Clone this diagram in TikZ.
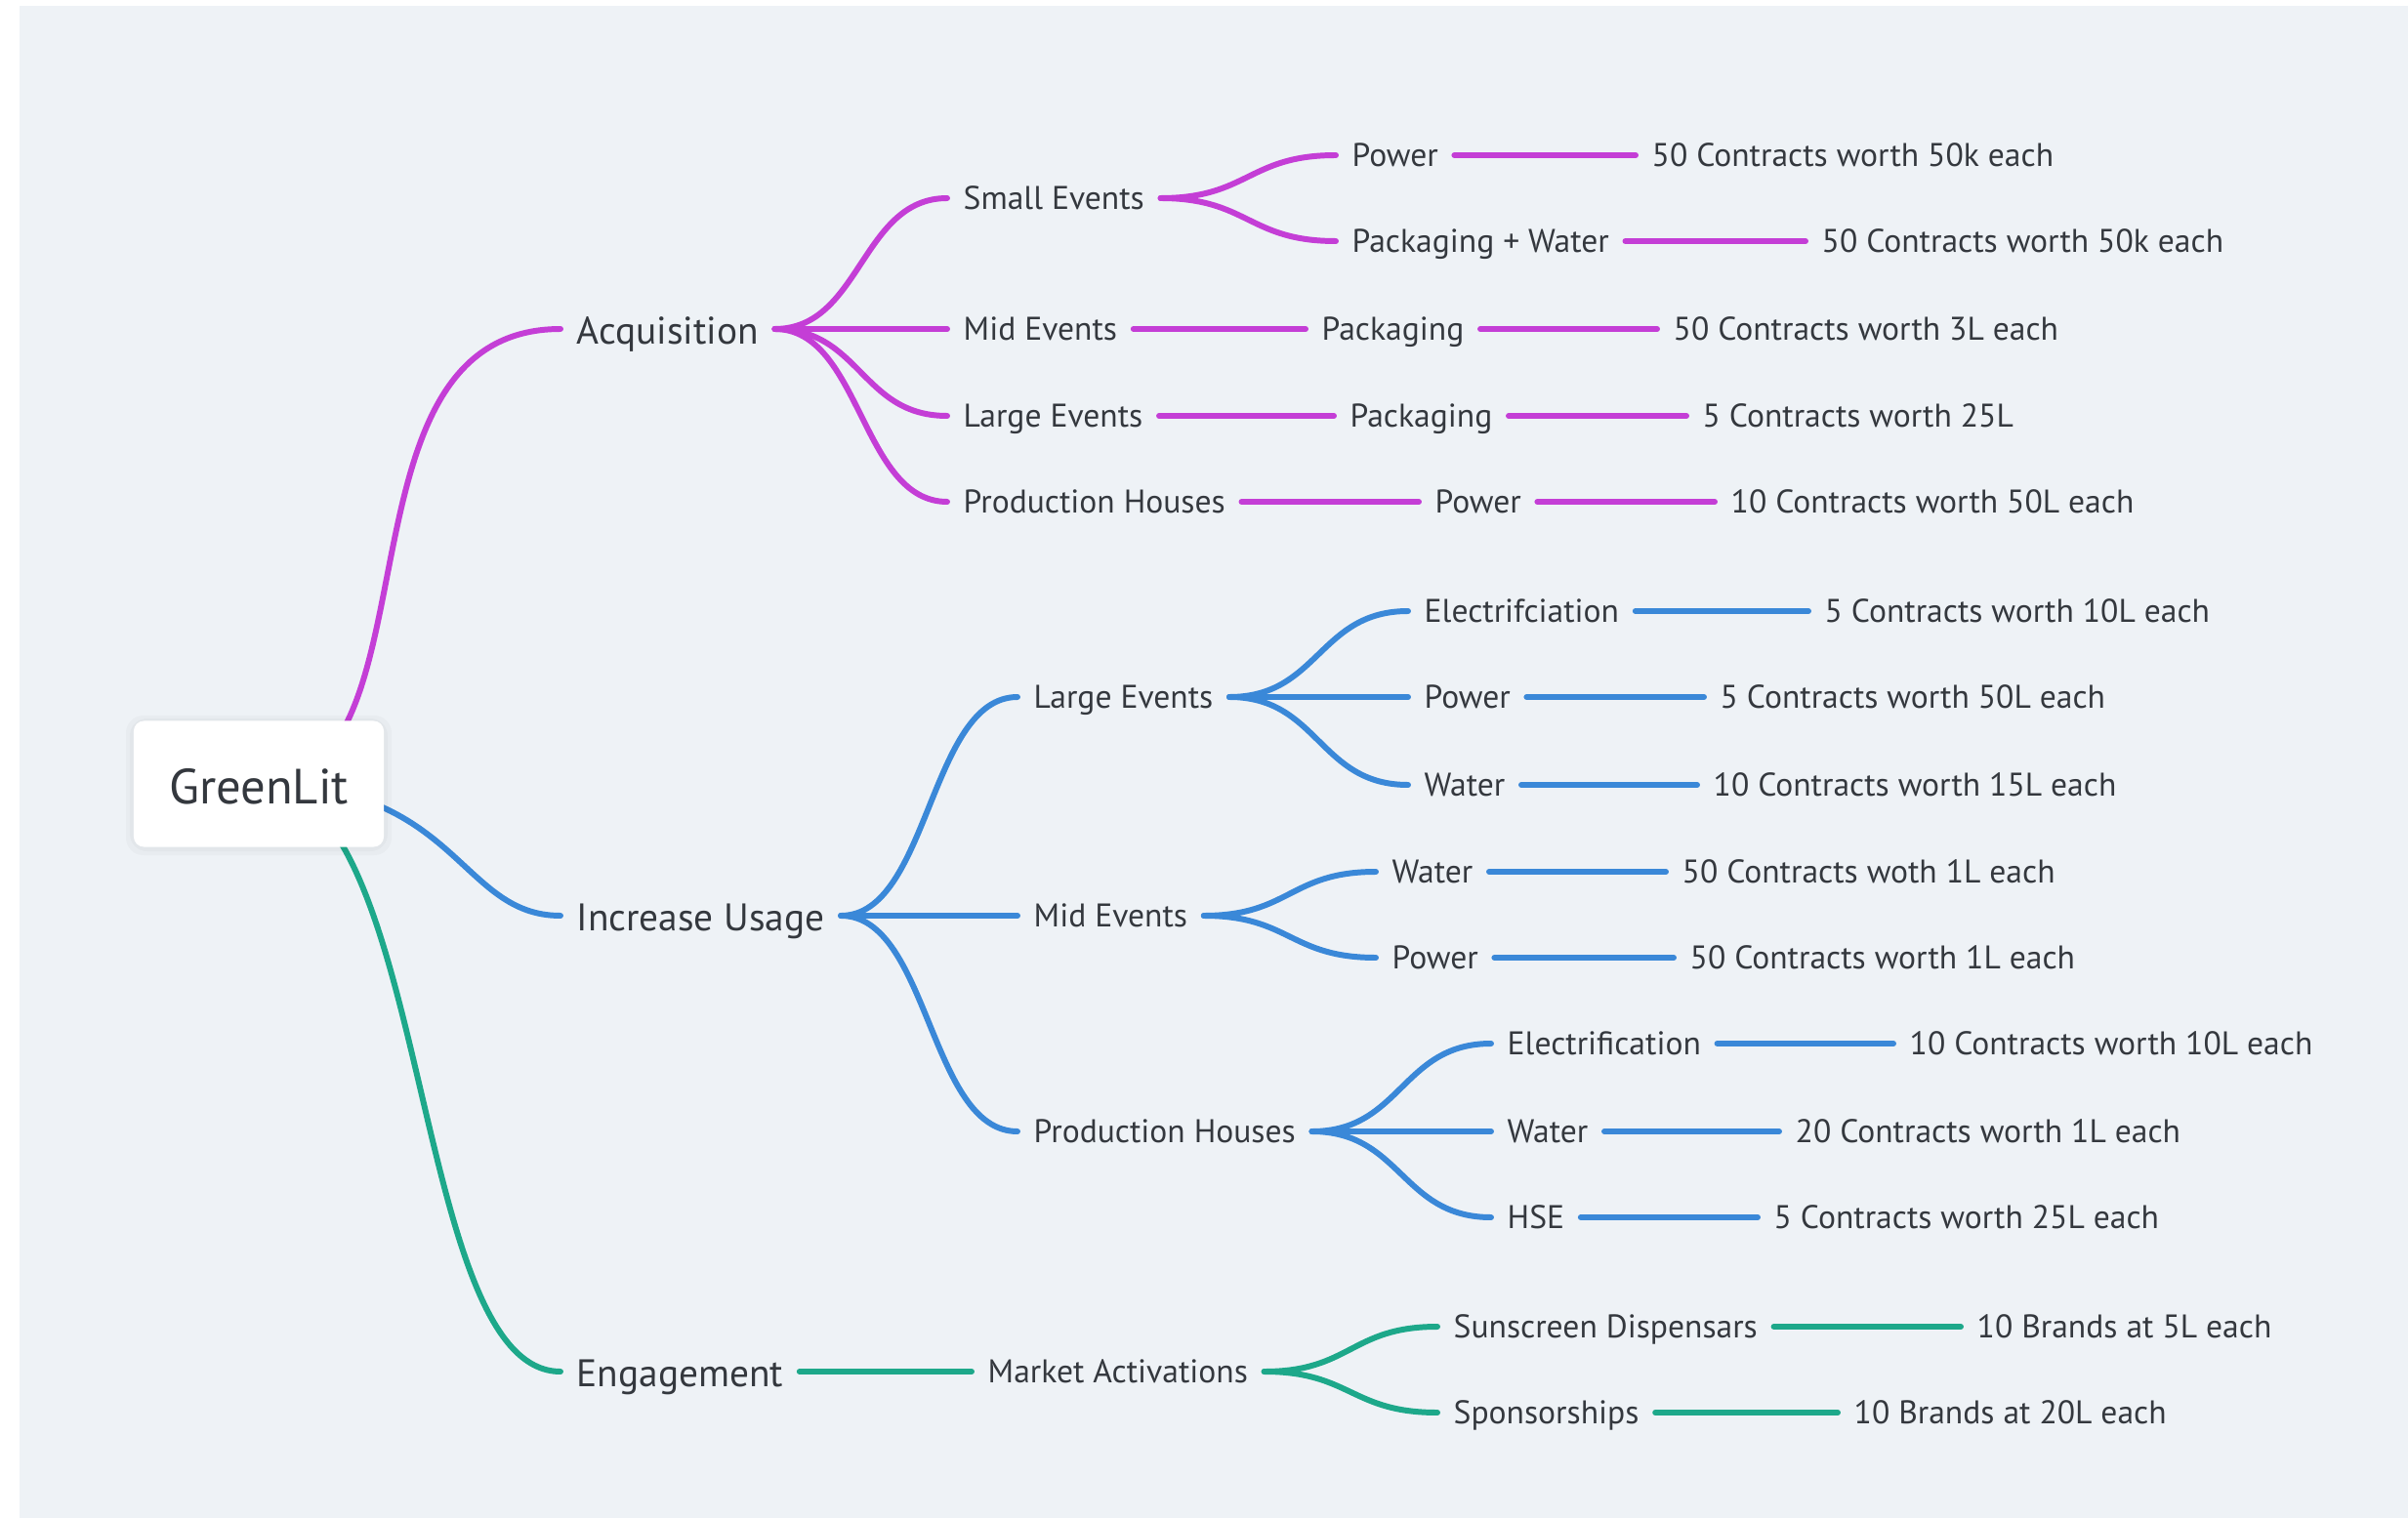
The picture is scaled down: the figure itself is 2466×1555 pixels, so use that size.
\documentclass[tikz,border=0pt]{standalone}
\usepackage{fontspec}
\setmainfont{PT Sans}
\usetikzlibrary{calc}
\definecolor{bgpanel}{HTML}{EEF2F6}
\definecolor{mmpurple}{HTML}{C43ED6}
\definecolor{mmblue}{HTML}{3A88D8}
\definecolor{mmgreen}{HTML}{1DA88A}
\definecolor{mmtext}{HTML}{34383E}
\tikzset{
  rootbox/.style={draw=none, fill=white, rounded corners=3pt, minimum width=2.56cm, minimum height=1.29cm,
    font=\fontsize{14.4}{17}\selectfont, text=mmtext, text height=13.4pt, text depth=2pt},
  rootshade/.style={fill=black, fill opacity=0.025, rounded corners=5pt},
  lvone/.style={anchor=west, inner sep=0pt, font=\fontsize{11.2}{14}\selectfont, text=mmtext, text height=10.9pt, text depth=2.3pt},
  lvtwo/.style={anchor=west, inner sep=0pt, font=\fontsize{9.55}{12}\selectfont, text=mmtext, text height=8.7pt, text depth=2pt},
  conn/.style={line width=1.7pt, line cap=round},
  cp/.style={conn, draw=mmpurple},
  cb/.style={conn, draw=mmblue},
  cg/.style={conn, draw=mmgreen}
}
\newcommand\mmfork[3]{\draw[#1] let \p1=($(#2.east)+(0.16cm,0)$), \p2=($(#3.west)-(0.16cm,0)$) in
  (\p1) .. controls ($(\p1)!0.5!(\x2,\y1)$) and ($(\p2)!0.5!(\x1,\y2)$) .. (\p2);}
\newcommand\mmline[3]{\draw[#1] ($(#2.east)+(0.16cm,0)$) -- ($(#3.west)-(0.16cm,0)$);}
\begin{document}
\begin{tikzpicture}[x=0.01cm, y=-0.01cm]
\useasboundingbox (0,0) rectangle (2466,1555);
\fill[white] (0,0) rectangle (2466,1555);
\fill[bgpanel] (20,6) rectangle (2466,1555);
\coordinate (rootc) at (265,803);
% level 1
\node[lvone] (acq) at (590,337) {Acquisition};
\node[lvone] (inc) at (590,938) {Increase Usage};
\node[lvone] (eng) at (590,1405) {Engagement};
% level 2
\node[lvtwo] (psmall) at (986,203) {Small Events};
\node[lvtwo] (pmid) at (986,337) {Mid Events};
\node[lvtwo] (plarge) at (986,426) {Large Events};
\node[lvtwo] (pprod) at (986,514) {Production Houses};
\node[lvtwo] (blarge) at (1058,714) {Large Events};
\node[lvtwo] (bmid) at (1058,938) {Mid Events};
\node[lvtwo] (bprod) at (1058,1159) {Production Houses};
\node[lvtwo] (gmkt) at (1011,1405) {Market Activations};
% level 3
\node[lvtwo] (ppow) at (1384,159) {Power};
\node[lvtwo] (ppw) at (1384,247) {Packaging + Water};
\node[lvtwo] (ppackm) at (1353,337) {Packaging};
\node[lvtwo] (ppackl) at (1382,426) {Packaging};
\node[lvtwo] (ppowp) at (1469,514) {Power};
\node[lvtwo] (belecl) at (1458,626) {Electrifciation};
\node[lvtwo] (bpowl) at (1458,714) {Power};
\node[lvtwo] (bwatl) at (1458,804) {Water};
\node[lvtwo] (bwatm) at (1425,893) {Water};
\node[lvtwo] (bpowm) at (1425,981) {Power};
\node[lvtwo] (belecp) at (1543,1069) {Electrification};
\node[lvtwo] (bwatp) at (1543,1159) {Water};
\node[lvtwo] (bhse) at (1543,1247) {HSE};
\node[lvtwo] (gsun) at (1488,1359) {Sunscreen Dispensars};
\node[lvtwo] (gspon) at (1488,1447) {Sponsorships};
% level 4
\node[lvtwo] (q1) at (1691,159) {50 Contracts worth 50k each};
\node[lvtwo] (q2) at (1865,247) {50 Contracts worth 50k each};
\node[lvtwo] (q3) at (1713,337) {50 Contracts worth 3L each};
\node[lvtwo] (q4) at (1743,426) {5 Contracts worth 25L};
\node[lvtwo] (q5) at (1772,514) {10 Contracts worth 50L each};
\node[lvtwo] (q6) at (1868,626) {5 Contracts worth 10L each};
\node[lvtwo] (q7) at (1761,714) {5 Contracts worth 50L each};
\node[lvtwo] (q8) at (1754,804) {10 Contracts worth 15L each};
\node[lvtwo] (q9) at (1722,893) {50 Contracts woth 1L each};
\node[lvtwo] (q10) at (1730,981) {50 Contracts worth 1L each};
\node[lvtwo] (q11) at (1955,1069) {10 Contracts worth 10L each};
\node[lvtwo] (q12) at (1838,1159) {20 Contracts worth 1L each};
\node[lvtwo] (q13) at (1816,1247) {5 Contracts worth 25L each};
\node[lvtwo] (q14) at (2024,1359) {10 Brands at 5L each};
\node[lvtwo] (q15) at (1898,1447) {10 Brands at 20L each};
% root connectors
\draw[cp] (rootc) .. controls (456,803) and (332,337) .. ($(acq.west)-(0.16cm,0)$);
\draw[cb] (rootc) .. controls (470,803) and (470,938) .. ($(inc.west)-(0.16cm,0)$);
\draw[cg] (rootc) .. controls (443,803) and (418,1405) .. ($(eng.west)-(0.16cm,0)$);
% level 1 -> 2
\mmfork{cp}{acq}{psmall}
\mmfork{cp}{acq}{pmid}
\mmfork{cp}{acq}{plarge}
\mmfork{cp}{acq}{pprod}
\mmfork{cb}{inc}{blarge}
\mmfork{cb}{inc}{bmid}
\mmfork{cb}{inc}{bprod}
\mmline{cg}{eng}{gmkt}
% level 2 -> 3
\mmfork{cp}{psmall}{ppow}
\mmfork{cp}{psmall}{ppw}
\mmline{cp}{pmid}{ppackm}
\mmline{cp}{plarge}{ppackl}
\mmline{cp}{pprod}{ppowp}
\mmfork{cb}{blarge}{belecl}
\mmfork{cb}{blarge}{bpowl}
\mmfork{cb}{blarge}{bwatl}
\mmfork{cb}{bmid}{bwatm}
\mmfork{cb}{bmid}{bpowm}
\mmfork{cb}{bprod}{belecp}
\mmfork{cb}{bprod}{bwatp}
\mmfork{cb}{bprod}{bhse}
\mmfork{cg}{gmkt}{gsun}
\mmfork{cg}{gmkt}{gspon}
% level 3 -> 4
\mmline{cp}{ppow}{q1}
\mmline{cp}{ppw}{q2}
\mmline{cp}{ppackm}{q3}
\mmline{cp}{ppackl}{q4}
\mmline{cp}{ppowp}{q5}
\mmline{cb}{belecl}{q6}
\mmline{cb}{bpowl}{q7}
\mmline{cb}{bwatl}{q8}
\mmline{cb}{bwatm}{q9}
\mmline{cb}{bpowm}{q10}
\mmline{cb}{belecp}{q11}
\mmline{cb}{bwatp}{q12}
\mmline{cb}{bhse}{q13}
\mmline{cg}{gsun}{q14}
\mmline{cg}{gspon}{q15}
% root with soft shadow
\fill[rootshade] (129,733) rectangle (401,876);
\fill[rootshade] (133,736) rectangle (397,872);
\node[rootbox] (root) at (rootc) {GreenLit};
\end{tikzpicture}
\end{document}
